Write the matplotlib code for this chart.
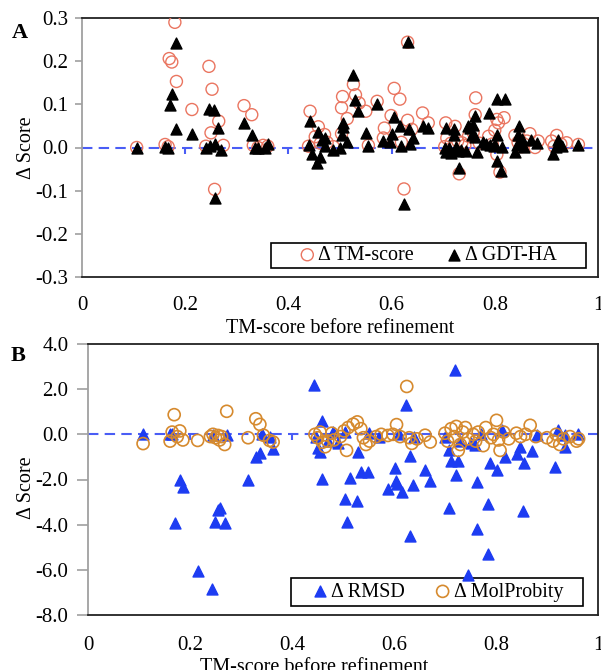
import matplotlib
matplotlib.use("Agg")
import matplotlib.pyplot as plt
from matplotlib.patches import Rectangle

plt.rcParams['font.family'] = ['Liberation Serif', 'DejaVu Serif']
plt.rcParams['font.size'] = 14

# ---- panel A data: (TM-score before refinement, delta) ----
tm_x = [0.106, 0.161, 0.167, 0.169, 0.174, 0.180, 0.183, 0.213, 0.240, 0.246,
        0.252, 0.250, 0.257, 0.265, 0.274, 0.314, 0.329, 0.332, 0.341, 0.351,
        0.360, 0.439, 0.442, 0.452, 0.458, 0.462, 0.470, 0.475, 0.487, 0.503,
        0.505, 0.503, 0.514, 0.526, 0.530, 0.537, 0.550, 0.555, 0.572, 0.584,
        0.586, 0.599, 0.605, 0.616, 0.619, 0.624, 0.631, 0.631, 0.639, 0.660,
        0.671, 0.705, 0.707, 0.703, 0.715, 0.723, 0.728, 0.731, 0.736, 0.742,
        0.749, 0.763, 0.762, 0.758, 0.770, 0.788, 0.795, 0.804, 0.807, 0.818,
        0.804, 0.810, 0.800, 0.839, 0.845, 0.852, 0.862, 0.868, 0.878, 0.884,
        0.910, 0.915, 0.920, 0.928, 0.939, 0.962]
tm_d = [0.000, 0.007, 0.002, 0.206, 0.198, 0.290, 0.153, 0.088, 0.003, 0.188,
        0.135, 0.034, -0.097, 0.061, 0.005, 0.097, 0.076, 0.005, 0.000, 0.005,
        0.003, 0.003, 0.084, 0.025, 0.048, 0.010, 0.030, 0.012, 0.002, 0.092,
        0.118, 0.032, 0.067, 0.146, 0.122, 0.103, 0.084, 0.005, 0.107, 0.022,
        0.045, 0.074, 0.137, 0.112, 0.012, -0.096, 0.244, 0.063, 0.042, 0.080,
        0.057, 0.057, 0.022, 0.002, 0.010, 0.049, 0.015, -0.061, 0.011, 0.005,
        0.026, 0.115, 0.076, 0.035, 0.010, 0.026, 0.008, 0.065, 0.057, 0.069,
        -0.016, -0.057, 0.040, 0.028, 0.012, 0.002, 0.015, 0.032, 0.000, 0.015,
        0.015, 0.003, 0.028, 0.008, 0.011, 0.007]

gdt_x = [0.106, 0.161, 0.167, 0.171, 0.174, 0.182, 0.183, 0.214, 0.240, 0.246,
         0.256, 0.248, 0.258, 0.258, 0.264, 0.269, 0.314, 0.329, 0.335, 0.341,
         0.355, 0.361, 0.439, 0.442, 0.445, 0.455, 0.461, 0.458, 0.465, 0.471,
         0.471, 0.487, 0.500, 0.503, 0.505, 0.505, 0.513, 0.526, 0.530, 0.534,
         0.550, 0.555, 0.572, 0.584, 0.597, 0.600, 0.605, 0.616, 0.618, 0.624,
         0.631, 0.633, 0.636, 0.642, 0.661, 0.671, 0.705, 0.703, 0.705, 0.712,
         0.716, 0.721, 0.721, 0.725, 0.728, 0.731, 0.735, 0.745, 0.749, 0.752,
         0.755, 0.758, 0.762, 0.762, 0.765, 0.778, 0.782, 0.789, 0.790, 0.798,
         0.800, 0.804, 0.804, 0.805, 0.812, 0.813, 0.820, 0.840, 0.843, 0.845,
         0.846, 0.848, 0.852, 0.857, 0.871, 0.881, 0.913, 0.918, 0.922, 0.930,
         0.962]
gdt_d = [0.000, 0.002, 0.000, 0.099, 0.124, 0.242, 0.044, 0.032, 0.000, 0.090,
         0.088, 0.003, 0.008, -0.116, 0.045, -0.005, 0.057, 0.028, 0.000, 0.000,
         0.000, 0.008, 0.005, 0.062, -0.016, -0.035, -0.023, 0.035, 0.018, 0.022,
         0.003, -0.005, -0.002, 0.030, 0.057, 0.048, 0.012, 0.169, 0.111, 0.084,
         0.034, 0.003, 0.100, 0.015, 0.012, 0.032, 0.071, 0.049, 0.003, -0.132,
         0.244, 0.042, 0.007, 0.022, 0.049, 0.045, 0.045, 0.000, -0.010, -0.002,
         -0.012, 0.042, 0.030, 0.002, -0.008, -0.047, -0.005, -0.008, 0.049, 0.045,
         0.030, 0.053, 0.072, 0.025, -0.010, 0.012, 0.008, 0.080, 0.005, 0.003,
         0.005, 0.030, -0.032, 0.112, -0.055, 0.002, 0.112, -0.010, 0.005, 0.030,
         0.049, 0.015, 0.020, 0.002, 0.018, 0.011, -0.016, 0.002, 0.018, 0.003,
         0.005]

# ---- panel B data ----
rmsd_x = [0.108, 0.161, 0.165, 0.171, 0.180, 0.186, 0.215, 0.244, 0.249, 0.255,
          0.259, 0.269, 0.246, 0.272, 0.314, 0.330, 0.337, 0.342, 0.356, 0.363,
          0.443, 0.447, 0.450, 0.454, 0.458, 0.458, 0.470, 0.480, 0.490, 0.504,
          0.504, 0.507, 0.514, 0.527, 0.530, 0.535, 0.549, 0.550, 0.570, 0.589,
          0.601, 0.603, 0.606, 0.610, 0.615, 0.623, 0.631, 0.631, 0.637, 0.640,
          0.660, 0.671, 0.700, 0.707, 0.707, 0.712, 0.720, 0.721, 0.725, 0.730,
          0.746, 0.750, 0.759, 0.762, 0.762, 0.770, 0.785, 0.785, 0.788, 0.801,
          0.811, 0.818, 0.841, 0.847, 0.852, 0.854, 0.870, 0.880, 0.916, 0.922,
          0.935, 0.935, 0.961]
rmsd_d = [0.00, 0.00, 0.00, -3.92, -2.04, -2.33, -6.06, -6.86, -3.88, -3.35,
          -3.25, -3.91, -0.05, -0.04, -2.04, -1.00, -0.81, 0.03, -0.10, -0.63,
          2.20, -0.10, -0.60, -0.80, 0.58, -1.96, -0.30, 0.10, -0.40, 0.10,
          -2.85, -3.88, -1.93, -2.95, -0.78, -1.67, -1.67, 0.05, -0.10, -2.40,
          -1.47, -2.07, -2.20, 0.00, -2.55, 1.31, -0.96, -4.51, -2.26, -0.10,
          -1.59, -2.07, -0.10, -3.24, -0.71, -1.20, 2.83, -1.78, -1.20, -0.30,
          -6.24, -0.40, -0.49, -2.11, -4.17, 0.00, -3.07, -5.28, -1.25, -1.59,
          0.18, -1.00, -0.88, -0.56, -3.39, -1.25, -0.75, -0.04, -1.45, 0.18,
          -0.04, -0.56, 0.03]

molp_x = [0.108, 0.161, 0.165, 0.169, 0.175, 0.180, 0.186, 0.215, 0.240, 0.245,
          0.250, 0.255, 0.258, 0.262, 0.268, 0.272, 0.314, 0.329, 0.337, 0.344,
          0.356, 0.363, 0.445, 0.450, 0.455, 0.460, 0.465, 0.470, 0.478, 0.482,
          0.495, 0.502, 0.507, 0.510, 0.520, 0.528, 0.535, 0.540, 0.545, 0.552,
          0.565, 0.575, 0.588, 0.598, 0.605, 0.612, 0.625, 0.630, 0.635, 0.645,
          0.661, 0.671, 0.700, 0.705, 0.712, 0.718, 0.722, 0.726, 0.730, 0.735,
          0.740, 0.745, 0.755, 0.760, 0.765, 0.775, 0.780, 0.790, 0.795, 0.801,
          0.805, 0.808, 0.815, 0.825, 0.840, 0.848, 0.858, 0.867, 0.878, 0.900,
          0.912, 0.918, 0.925, 0.932, 0.945, 0.958, 0.962]
molp_d = [-0.41, -0.30, 0.10, 0.87, -0.10, 0.15, -0.25, -0.27, -0.10, 0.00,
          -0.15, -0.05, -0.25, -0.10, -0.45, 1.02, -0.15, 0.69, 0.44, -0.04,
          -0.27, -0.34, 0.00, -0.15, 0.10, -0.35, -0.55, -0.30, 0.05, -0.25,
          -0.10, 0.15, -0.71, 0.30, 0.45, 0.55, 0.25, -0.15, -0.45, -0.30,
          -0.10, 0.00, -0.05, 0.00, 0.43, -0.10, 2.12, -0.15, -0.40, -0.20,
          -0.04, -0.34, 0.05, -0.30, 0.25, -0.10, 0.35, -0.71, -0.45, 0.10,
          0.30, -0.20, 0.00, -0.30, 0.10, -0.50, 0.30, -0.15, 0.00, 0.62,
          -0.25, -0.71, 0.10, -0.20, 0.05, -0.10, 0.00, 0.40, -0.10, -0.15,
          -0.30, 0.00, -0.45, -0.20, -0.10, -0.30, -0.20]

x_ticks = [0, 0.2, 0.4, 0.6, 0.8, 1.0]
x_ticklabels = ['0', '0.2', '0.4', '0.6', '0.8', '1']
yticks_a = [0.3, 0.2, 0.1, 0.0, -0.1, -0.2, -0.3]
yticks_b = [4.0, 2.0, 0.0, -2.0, -4.0, -6.0, -8.0]

W, H = 601, 670
ZERO_BLUE = '#4a5df5'
SALMON = '#ea7560'
ORANGE = '#d68a2e'
BLUE = '#1d3cf2'


def style_axes(ax, yticks, ylim, zero_frac, ytick_len, ytick_pad, xpad):
    ax.set_xlim(0, 1)
    ax.set_ylim(*ylim)
    ax.set_xticks(x_ticks)
    ax.set_xticklabels(x_ticklabels)
    ax.set_yticks(yticks)
    ax.set_yticklabels(['{:.1f}'.format(v) for v in yticks])
    ax.tick_params(axis='x', length=0, pad=xpad, labelsize=15)
    ax.tick_params(axis='y', length=ytick_len, width=1.2, color='#a0a0a0',
                   direction='out', pad=ytick_pad, labelsize=15)
    for s in ['top', 'right', 'bottom']:
        ax.spines[s].set_color('#222222')
        ax.spines[s].set_linewidth(1.3)
    ax.spines['left'].set_color('#a0a0a0')
    ax.spines['left'].set_linewidth(1.3)
    # dashed zero line acting as the x axis, with its own small tick marks
    ax.axhline(0, color=ZERO_BLUE, lw=1.5, ls=(0, (5, 3)), zorder=1)
    sec = ax.secondary_xaxis(zero_frac)
    sec.set_xticks(x_ticks[1:-1])
    sec.xaxis.set_ticks_position('bottom')
    sec.tick_params(axis='x', direction='out', length=4, width=1.5,
                    color=ZERO_BLUE, labelbottom=False, labeltop=False)
    for sp in sec.spines.values():
        sp.set_visible(False)


def boxed_legend(ax, x0, y0, w, h, colsp):
    # legend box is wider than its content in the original, so frame it by hand
    ax.add_patch(Rectangle((x0, y0), w, h, transform=ax.transAxes,
                           facecolor='white', edgecolor='black', lw=1.2,
                           zorder=5))
    leg = ax.legend(loc='center', bbox_to_anchor=(x0 + w / 2, y0 + h / 2),
                    ncol=2, frameon=False, handlelength=0.8,
                    handletextpad=0.15, columnspacing=colsp, borderpad=0.1,
                    borderaxespad=0, fontsize=14.5)
    leg.set_zorder(6)
    return leg


fig = plt.figure(figsize=(W / 100, H / 100), dpi=100)

# ---------------- Panel A ----------------
axA = fig.add_axes([82 / W, 1 - 277 / H, 516 / W, 259 / H])
style_axes(axA, yticks_a, (-0.3, 0.3), 0.5, 5, 5, 14)
axA.scatter(tm_x, tm_d, s=75, facecolors='none', edgecolors=SALMON,
            linewidths=1.0, marker='o', zorder=7, label='\u0394 TM-score')
axA.scatter(gdt_x, gdt_d, s=62, color='black', marker='^', zorder=8,
            label='\u0394 GDT-HA')
axA.set_xlabel('TM-score before refinement', fontsize=14.5)
axA.xaxis.set_label_coords(0.5, -0.162)
axA.set_ylabel('\u0394 Score', va='center', ha='center', fontsize=14.5)
axA.yaxis.set_label_coords(-0.108, 0.5)
boxed_legend(axA, 0.366, 0.035, 0.61, 0.096, 1.6)
fig.text(19.5 / W, 1 - 33 / H, 'A', fontsize=16, fontweight='bold',
         ha='center', va='center')

# ---------------- Panel B ----------------
axB = fig.add_axes([88 / W, 1 - 615 / H, 510 / W, 271 / H])
style_axes(axB, yticks_b, (-8, 4), 8 / 12, 8, 6, 15)
axB.scatter(rmsd_x, rmsd_d, s=62, color=BLUE, marker='^', zorder=7,
            label='\u0394 RMSD')
axB.scatter(molp_x, molp_d, s=75, facecolors='none', edgecolors=ORANGE,
            linewidths=1.2, marker='o', zorder=8, label='\u0394 MolProbity')
axB.set_xlabel('TM-score before refinement', fontsize=14.5)
axB.xaxis.set_label_coords(0.443, -0.159)
axB.set_ylabel('\u0394 Score', va='center', ha='center', fontsize=14.5)
axB.yaxis.set_label_coords(-0.12, 0.47)
boxed_legend(axB, 0.399, 0.034, 0.572, 0.101, 1.5)
fig.text(18 / W, 1 - 356 / H, 'B', fontsize=16, fontweight='bold',
         ha='center', va='center')

fig.savefig('out.png', dpi=100, facecolor='white')
